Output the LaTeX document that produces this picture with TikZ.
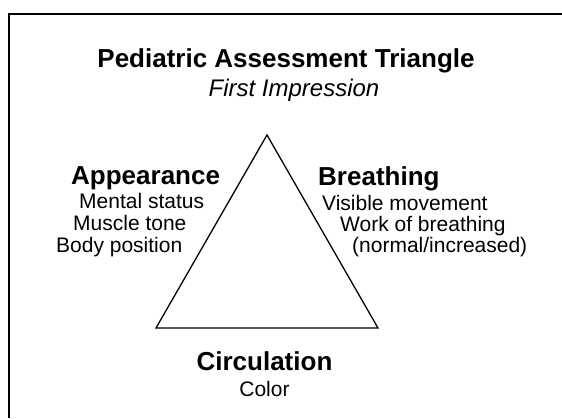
\documentclass[tikz,border=0pt]{standalone}
\usepackage{fontspec}
\setmainfont{Liberation Sans}

\begin{document}
\begin{tikzpicture}[x=1pt,y=-1pt,
    head/.style={inner sep=0pt,font=\fontsize{26}{30}\selectfont\bfseries},
    item/.style={inner sep=0pt,anchor=base west,font=\fontsize{21}{24}\selectfont}]
  \useasboundingbox (0,0) rectangle (562,418);

  \coordinate (frameR) at (562,14);
  \coordinate (frameC) at (9,14);
  \coordinate (frameB) at (9,418);
  \draw[line width=1.6pt] (frameR) -- (frameC) -- (frameB);

  \node[head,anchor=base] (title) at (286,67) {Pediatric Assessment Triangle};
  \node[item,anchor=base,font=\fontsize{24}{28}\selectfont\itshape] (sub) at (294,96) {First Impression};

  \coordinate (top) at (267,135);
  \coordinate (left) at (156,328);
  \coordinate (right) at (378,328);
  \draw[line width=1.3pt,line join=miter] (top) -- (right) -- (left) -- cycle;

  \node[head,anchor=base west] (app) at (71,184) {Appearance};
  \node[item] (app1) at (79,208) {Mental status};
  \node[item] (app2) at (73,230) {Muscle tone};
  \node[item] (app3) at (56,252) {Body position};

  \node[head,anchor=base west] (bre) at (318,185) {Breathing};
  \node[item] (bre1) at (322,210) {Visible movement};
  \node[item] (bre2) at (340,231) {Work of breathing};
  \node[item] (bre3) at (352,252) {(normal/increased)};

  \node[head,anchor=base] (cir) at (264.5,370) {Circulation};
  \node[item,anchor=base] (cir1) at (264.5,396) {Color};
\end{tikzpicture}
\end{document}
